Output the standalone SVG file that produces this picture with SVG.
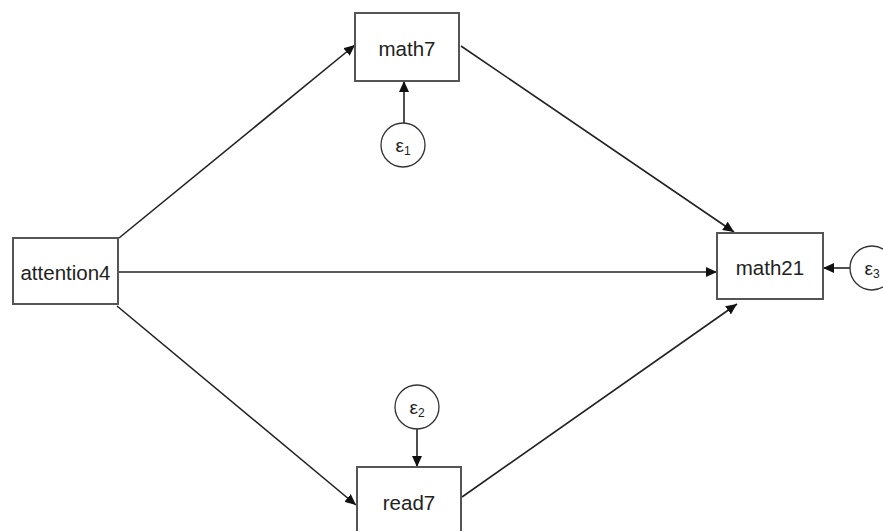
<svg xmlns="http://www.w3.org/2000/svg" width="883" height="531" viewBox="0 0 883 531">
<style>
.box{fill:#fff;stroke:#555;stroke-width:2}
.err{fill:#fff;stroke:#333;stroke-width:1.3}
.lbl{font-family:"Liberation Sans",Arial,sans-serif;font-size:20.5px;fill:#222;text-anchor:middle}
.eps{font-family:"Liberation Sans",Arial,sans-serif;font-size:19px;fill:#222;text-anchor:middle}
.sub{font-size:12px}
.con{stroke:#222;stroke-width:1.6;fill:none;marker-end:url(#ah)}
</style>
<defs>
<marker id="ah" markerUnits="userSpaceOnUse" markerWidth="12" markerHeight="10" refX="11" refY="5" orient="auto">
<path d="M0,0 L11,5 L0,10 Z" fill="#111"/>
</marker>
</defs>
<rect width="883" height="531" fill="#fff"/>
<g id="connectors">
<line class="con" x1="119" y1="238" x2="355" y2="45"/>
<line class="con" x1="461" y1="46" x2="734" y2="232"/>
<line class="con" x1="118" y1="272" x2="717" y2="272"/>
<line class="con" x1="117" y1="306" x2="356" y2="505"/>
<line class="con" x1="462" y1="497" x2="737" y2="304"/>
<line class="con" x1="404" y1="123" x2="404" y2="81"/>
<line class="con" x1="417" y1="429" x2="417" y2="467"/>
<line class="con" x1="850" y1="268" x2="823" y2="268"/>
</g>
<g id="math7">
<rect class="box" x="355" y="13" width="104" height="68"/>
<text class="lbl" x="407" y="56">math7</text>
</g>
<g id="attention4">
<rect class="box" x="13" y="238" width="105" height="66"/>
<text class="lbl" x="65.5" y="280">attention4</text>
</g>
<g id="math21">
<rect class="box" x="717" y="233" width="106" height="66"/>
<text class="lbl" x="770" y="275">math21</text>
</g>
<g id="read7">
<rect class="box" x="357" y="467" width="104" height="70"/>
<text class="lbl" x="409" y="510">read7</text>
</g>
<g id="e1">
<circle class="err" cx="403" cy="145" r="22"/>
<text class="eps" x="403" y="152">ε<tspan class="sub" dy="3">1</tspan></text>
</g>
<g id="e2">
<circle class="err" cx="417" cy="407" r="22"/>
<text class="eps" x="417" y="414">ε<tspan class="sub" dy="3">2</tspan></text>
</g>
<g id="e3">
<circle class="err" cx="872" cy="268" r="22"/>
<text class="eps" x="872" y="275">ε<tspan class="sub" dy="3">3</tspan></text>
</g>
</svg>
